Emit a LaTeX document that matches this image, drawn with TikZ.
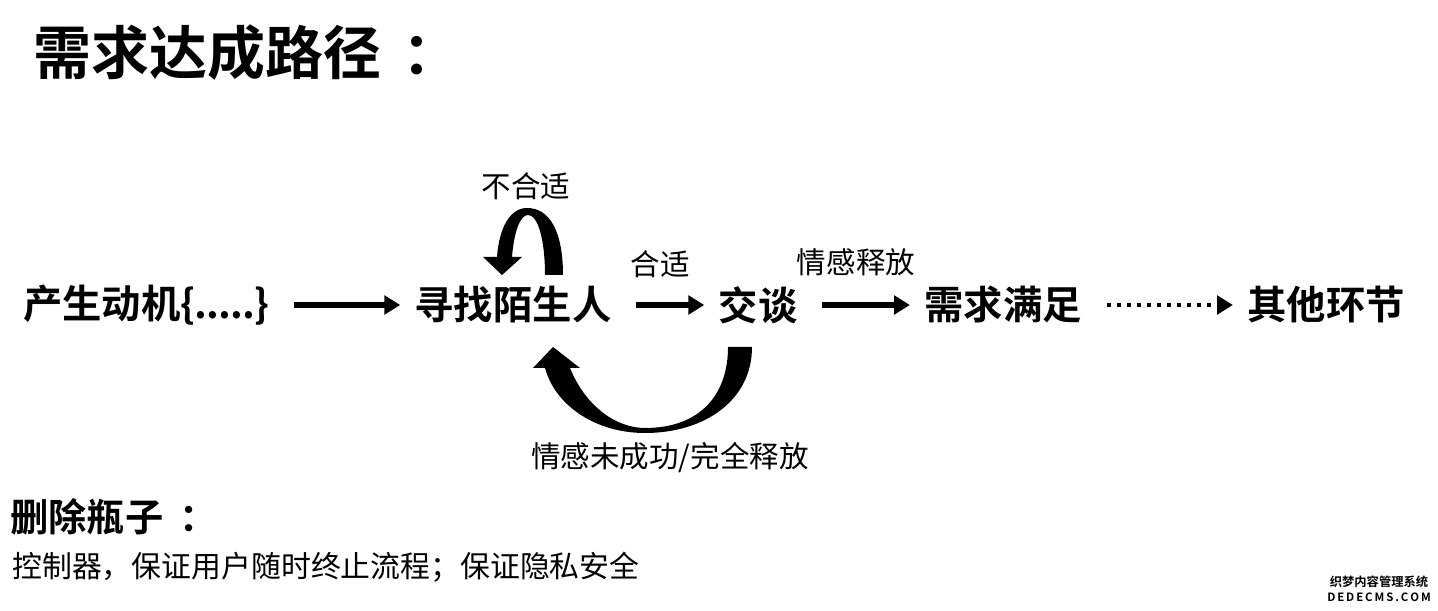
\documentclass[tikz,border=0pt]{standalone}
\usepackage{fontspec}
\setmainfont{Noto Sans CJK SC}[BoldFont={Noto Sans CJK SC Bold}]
\usetikzlibrary{arrows.meta}

\begin{document}
\begin{tikzpicture}[x=0.02cm, y=-0.02cm,
        stage/.style={font=\fontsize{22.4}{26}\selectfont\bfseries, inner sep=0pt},
        note/.style={font=\fontsize{16.8}{20}\selectfont, inner sep=0pt},
        flow/.style={line width=2.9pt, -{Triangle[length=9pt, width=10.5pt]}, shorten <=14pt, shorten >=8pt},
        dots/.style={flow, line width=2.6pt, dash pattern=on 2.6pt off 3.1pt}]
        \useasboundingbox (0,0) rectangle (1438,611);

        \node[anchor=west, inner sep=0pt, font=\fontsize{33}{38}\selectfont\bfseries] (title) at (33, 53) {需求达成路径\hspace{12pt}：};

        \node[stage] (motive) at (146, 305) {产生动机\{\kern-0.5pt.\kern-0.5pt.\kern-0.5pt.\kern-0.5pt.\kern-0.5pt.\kern-0.5pt\}};
        \node[stage] (seek) at (513, 305) {寻找陌生人};
        \node[stage] (talk) at (758, 305) {交谈};
        \node[stage] (need) at (1003, 305) {需求满足};
        \node[stage] (other) at (1326, 305) {其他环节};

        \draw[flow] (motive.east) -- (seek.west);
        \draw[flow] (seek.east) -- (talk.west);
        \draw[flow] (talk.east) -- (need.west);
        \draw[dots] (need.east) -- (other.west);

        \node[note] (unfit) at (526, 186) {不合适};
        \node[note] (fit) at (660, 264) {合适};
        \node[note] (freed) at (856, 262) {情感释放};
        \node[note] (failed) at (670, 458) {情感未成功/完全释放};

        \fill (563,275) .. controls (563,232) and (550,208) .. (527,208)
            .. controls (510,208) and (499,228) .. (497,257)
            -- (483,257) -- (502,275) -- (522,257) -- (512,257)
            .. controls (514,232) and (520,215) .. (528,215)
            .. controls (538,215) and (545,240) .. (545,275) -- cycle;
        \fill (752,347) .. controls (752,400) and (705,433) .. (645,433)
            .. controls (595,433) and (555,405) .. (545,368)
            -- (533,368) -- (553,347) -- (580,368) -- (570,368)
            .. controls (585,405) and (615,428) .. (645,428)
            .. controls (700,428) and (728,395) .. (728,347) -- cycle;

        \node[anchor=west, inner sep=0pt, font=\fontsize{21.8}{25}\selectfont\bfseries] (drop) at (10, 517) {删除瓶子\hspace{9pt}：};
        \node[anchor=west, inner sep=0pt, font=\fontsize{17}{20}\selectfont] (ctrl) at (12, 567) {控制器，保证用户随时终止流程；保证隐私安全};

        \node[inner sep=0pt, font=\fontsize{7}{8}\selectfont\bfseries] (mark) at (1379, 582) {织梦内容管理系统};
        \node[inner sep=0pt, font=\fontsize{6.5}{8}\selectfont\bfseries] (site) at (1379, 597) {D\,E\,D\,E\,C\,M\,S\,.\,C\,O\,M};
    \end{tikzpicture}
\end{document}
